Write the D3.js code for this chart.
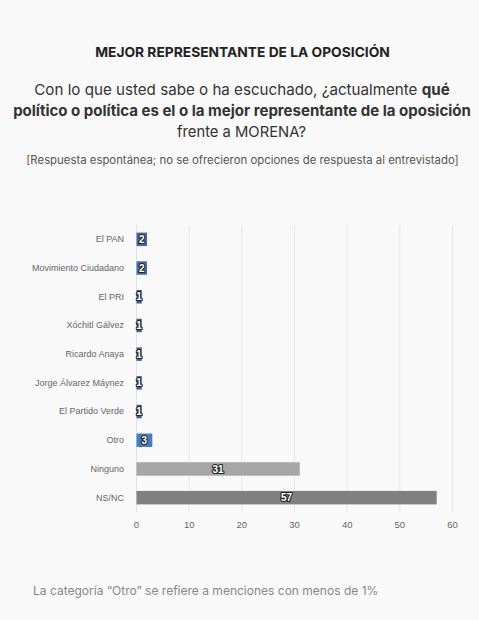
<!DOCTYPE html>
<html>
<head>
<meta charset="utf-8">
<script src="https://cdn.jsdelivr.net/npm/d3@7"></script>
<style>
  html, body { margin: 0; padding: 0; background: #f9f9f9; }
  svg { display: block; }
</style>
</head>
<body>
<svg id="chart" width="479" height="620"></svg>
<script>
const categories = ["El PAN", "Movimiento Ciudadano", "El PRI", "Xóchitl Gálvez", "Ricardo Anaya",
  "Jorge Álvarez Máynez", "El Partido Verde", "Otro", "Ninguno", "NS/NC"];
const values = [2, 2, 1, 1, 1, 1, 1, 3, 31, 57];
const barColors = ["#4468a0", "#4a70a8", "#3f5f92", "#3f5f92", "#3f5f92", "#3f5f92", "#3f5f92", "#4a7cc2", "#a6a6a6", "#808080"];
const xTicks = [0, 10, 20, 30, 40, 50, 60];

const title = "MEJOR REPRESENTANTE DE LA OPOSICIÓN";
const note = "[Respuesta espontánea; no se ofrecieron opciones de respuesta al entrevistado]";
const footnote = "La categoría “Otro” se refiere a menciones con menos de 1%";

const svg = d3.select("#chart");
const W = 479;
const font = "Inter, 'Open Sans', sans-serif";

svg.append("rect").attr("width", W).attr("height", 620).attr("fill", "#f9f9f9");

// fit a text element's font-size so it spans the target width
function fit(sel, target) {
  const fs = parseFloat(sel.attr("font-size")) || 16;
  const w = sel.node().getComputedTextLength();
  if (w > 0) sel.attr("font-size", fs * target / w);
  return sel;
}

// Title
fit(svg.append("text").attr("x", 242.5).attr("y", 57).attr("text-anchor", "middle")
  .attr("font-family", font).attr("font-weight", 700).attr("font-size", 13)
  .attr("fill", "#222").text(title), 295);

// Subtitle
const sub = svg.append("g").attr("font-family", font).attr("fill", "#333")
  .attr("text-anchor", "middle");
const l1 = sub.append("text").attr("x", 242).attr("y", 95).attr("font-size", 16).attr("font-weight", 400);
l1.append("tspan").text("Con lo que usted sabe o ha escuchado, ¿actualmente ");
l1.append("tspan").attr("font-weight", 700).text("qué");
fit(l1, 416);
fit(sub.append("text").attr("x", 242).attr("y", 116).attr("font-size", 16).attr("font-weight", 700)
  .text("político o política es el o la mejor representante de la oposición"), 458);
fit(sub.append("text").attr("x", 241.5).attr("y", 137).attr("font-size", 16).attr("font-weight", 400)
  .text("frente a MORENA?"), 129);

fit(svg.append("text").attr("x", 242.5).attr("y", 164).attr("text-anchor", "middle")
  .attr("font-family", font).attr("font-size", 11).attr("fill", "#555").text(note), 433);

// Chart
const x = d3.scaleLinear().domain([0, 60]).range([136, 452]);
const y = d3.scaleBand().domain(categories).range([225, 512]).paddingInner(0.53).paddingOuter(0.265);

// grid
svg.append("g").selectAll("line").data(xTicks).join("line")
  .attr("x1", d => x(d) + 0.5).attr("x2", d => x(d) + 0.5)
  .attr("y1", 225).attr("y2", 512)
  .attr("stroke", "#e6e6e6").attr("stroke-width", 1);

// x axis
const xAxis = d3.axisBottom(x).tickValues(xTicks).tickSize(0).tickPadding(0);
const gx = svg.append("g").attr("transform", "translate(0,521)").call(xAxis);
gx.select(".domain").remove();
gx.selectAll("text").attr("font-family", "'Liberation Sans', Arial, sans-serif")
  .attr("font-size", 9.5).attr("fill", "#666").attr("dy", "0.71em");

// y axis labels
const yAxis = d3.axisLeft(y).tickSize(0).tickPadding(12);
const gy = svg.append("g").attr("transform", "translate(136,0)").call(yAxis);
gy.select(".domain").attr("stroke", "#dde3ee").attr("stroke-width", 1);
gy.selectAll("text").attr("font-family", "'Liberation Sans', Arial, sans-serif")
  .attr("font-size", 9).attr("fill", "#666");

// bars
const data = categories.map((c, i) => ({ c, v: values[i], color: barColors[i] }));
svg.append("g").selectAll("rect").data(data).join("rect")
  .attr("x", x(0) + 0.5).attr("y", d => y(d.c))
  .attr("width", d => x(d.v) - x(0)).attr("height", y.bandwidth())
  .attr("fill", d => d.color);

// value labels
svg.append("g").selectAll("text").data(data).join("text")
  .attr("x", d => (x(0) + x(d.v)) / 2 + 0.5)
  .attr("y", d => y(d.c) + y.bandwidth() / 2)
  .attr("dy", "0.36em").attr("text-anchor", "middle")
  .attr("font-family", "'Liberation Sans', Arial, sans-serif").attr("font-weight", 700)
  .attr("font-size", 10).attr("fill", "#fff")
  .attr("stroke", "#222").attr("stroke-width", 2.2).attr("paint-order", "stroke")
  .attr("stroke-linejoin", "round")
  .text(d => d.v);

// footnote
fit(svg.append("text").attr("x", 33).attr("y", 595)
  .attr("font-family", font).attr("font-size", 12).attr("fill", "#888").text(footnote), 346);
</script>
</body>
</html>
